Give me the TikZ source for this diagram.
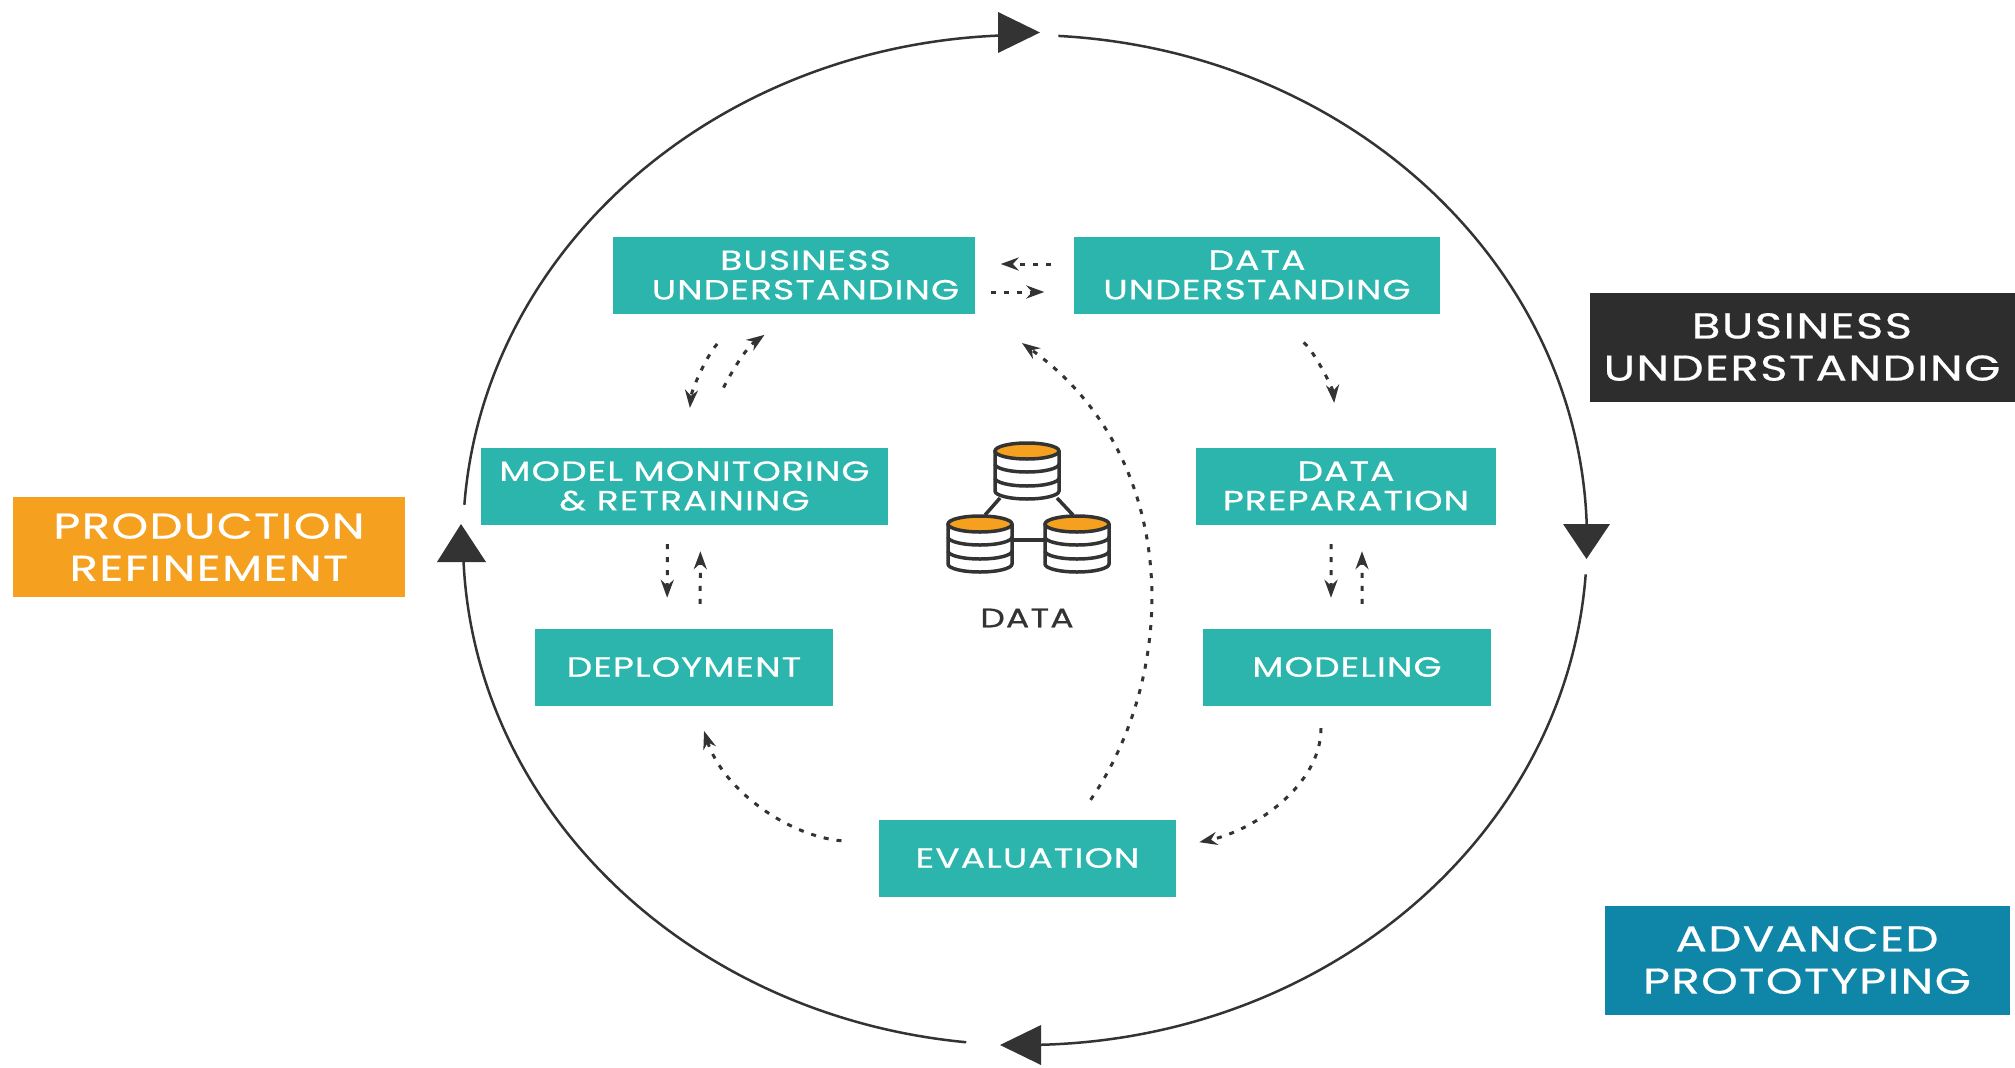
\documentclass[tikz,border=0pt]{standalone}
\usepackage{fontspec}
\setmainfont{Poppins}[FakeStretch=1.3,LetterSpace=4,FakeBold=0.6]
\usetikzlibrary{arrows.meta}
\definecolor{tealbox}{HTML}{2BB5AC}
\definecolor{orangebox}{HTML}{F5A01F}
\definecolor{bluebox}{HTML}{0F86A8}
\definecolor{blackbox}{HTML}{2D2D2D}
\definecolor{ink}{HTML}{333333}
\tikzset{
	stagebox/.style={fill=tealbox, text=white, minimum height=0.77cm, inner sep=0pt, align=center, font=\fontsize{7.9}{8.4}\selectfont},
	phasebox/.style={text=white, inner sep=0pt, align=center, font=\fontsize{10.2}{12}\selectfont},
	flow/.style={line width=0.3mm, color=ink, dash pattern=on 0.5mm off 0.8mm, -{Stealth[length=1.8mm,width=1.3mm]}},
	ring/.style={line width=0.25mm, color=ink},
	canline/.style={line width=0.35mm, color=ink}
}
\def\ringarc(#1:#2){\draw[ring] ([shift={(#1:5.62 and 5.05)}]hub) arc[start angle=#1, end angle=#2, x radius=5.62, y radius=5.05];}
\def\datacan(#1,#2){
	\begin{scope}[shift={(#1,#2)}]
		\draw[canline, fill=white] (-0.32, 0) -- (-0.32, -0.4) arc (180:360:0.32 and 0.08) -- (0.32, 0);
		\draw[canline] (-0.32, -0.13) arc (180:360:0.32 and 0.08);
		\draw[canline] (-0.32, -0.27) arc (180:360:0.32 and 0.08);
		\draw[canline, fill=orangebox] (0, 0) ellipse (0.32 and 0.08);
	\end{scope}
}

\begin{document}
\begin{tikzpicture}
		\useasboundingbox (0, 0) rectangle (20.15, 10.67);
		\coordinate (hub) at (10.25, 5.27);
		\coordinate (feedback) at (10.22, 7.24);
		
		%%%%% outer ring %%%%%
		\ringarc(176:92.7);
		\ringarc(86.6:1.8);
		\ringarc(-3.9:-88.4);
		\ringarc(264:182.5);
		\fill[ink] (9.98, 10.55) -- (10.4, 10.345) -- (9.98, 10.14) -- cycle;
		\fill[ink] (15.63, 5.43) -- (16.1, 5.43) -- (15.865, 5.08) -- cycle;
		\fill[ink] (10.41, 0.42) -- (10, 0.22) -- (10.41, 0.02) -- cycle;
		\fill[ink] (4.37, 5.05) -- (4.86, 5.05) -- (4.61, 5.43) -- cycle;
		
		%%%%% stages %%%%%
		\node[stagebox, minimum width=3.62cm] (bu) at (7.94, 7.92) {\hspace*{0.23cm}BUSINESS\\\hspace*{0.23cm}UNDERSTANDING};
		\node[stagebox, minimum width=3.66cm] (du) at (12.57, 7.92) {DATA\\UNDERSTANDING};
		\node[stagebox, minimum width=4.07cm] (mmr) at (6.845, 5.81) {MODEL MONITORING\\\& RETRAINING};
		\node[stagebox, minimum width=3cm] (dp) at (13.46, 5.81) {DATA\\PREPARATION};
		\node[stagebox, minimum width=2.98cm] (dep) at (6.84, 4) {DEPLOYMENT};
		\node[stagebox, minimum width=2.88cm] (mod) at (13.47, 4) {MODELING};
		\node[stagebox, minimum width=2.97cm] (eval) at (10.275, 2.09) {EVALUATION};
		
		%%%%% phases %%%%%
		\node[phasebox, fill=blackbox, minimum width=4.25cm, minimum height=1.09cm] (bizphase) at (18.02, 7.2) {BUSINESS\\UNDERSTANDING};
		\node[phasebox, fill=orangebox, minimum width=3.91cm, minimum height=1cm] (prodphase) at (2.09, 5.2) {PRODUCTION\\REFINEMENT};
		\node[phasebox, fill=bluebox, minimum width=4.05cm, minimum height=1.09cm] (protophase) at (18.07, 1.07) {ADVANCED\\PROTOTYPING};
		
		%%%%% data icon %%%%%
		\draw[canline] (10, 5.69) -- (9.85, 5.52);
		\draw[canline] (10.57, 5.69) -- (10.73, 5.52);
		\draw[canline] (10.13, 5.27) -- (10.45, 5.27);
		\datacan(10.27,6.16)
		\datacan(9.8,5.43)
		\datacan(10.77,5.43)
		\node[text=ink, font=\fontsize{7.6}{8}\selectfont] (datalabel) at (10.27, 4.49) {DATA};
		
		%%%%% flows %%%%%
		\draw[flow, shorten <=2.2mm, shorten >=2.5mm] ([yshift=0.11cm]du.west) -- ([yshift=0.11cm]bu.east);
		\draw[flow, shorten <=1.5mm, shorten >=2.9mm] ([yshift=-0.17cm]bu.east) -- ([yshift=-0.17cm]du.west);
		
		\draw[flow, shorten <=4mm, shorten >=3.9mm] ([xshift=-0.5cm]bu.south) to[out=228, in=85] ([xshift=0.02cm]mmr.north);
		\draw[flow, shorten <=6.3mm, shorten >=3.6mm] ([xshift=0.175cm]mmr.north) to[out=70, in=215] (bu.south);
		\draw[flow, shorten <=4.4mm, shorten >=4.4mm] ([xshift=0.13cm]du.south) to[out=-40, in=95] ([xshift=-0.08cm]dp.north);
		
		\draw[flow, shorten <=1.9mm, shorten >=3mm] ([xshift=-0.15cm]dp.south) -- ([xshift=-0.16cm]mod.north);
		\draw[flow, shorten <=2.4mm, shorten >=2.6mm] ([xshift=0.15cm]mod.north) -- ([xshift=0.16cm]dp.south);
		\draw[flow, shorten <=1.9mm, shorten >=3mm] ([xshift=-0.17cm]mmr.south) -- ([xshift=-0.17cm]dep.north);
		\draw[flow, shorten <=2.4mm, shorten >=2.6mm] ([xshift=0.16cm]dep.north) -- ([xshift=0.16cm]mmr.south);
		
		\draw[flow, shorten <=2.2mm, shorten >=2.3mm] ([xshift=-0.26cm]mod.south) to[out=-90, in=12] ([yshift=0.11cm]eval.east);
		\draw[flow, shorten <=3.7mm, shorten >=2.6mm] ([yshift=0.14cm]eval.west) to[out=175, in=-72] ([xshift=0.12cm]dep.south);
		\draw[flow, shorten <=2.3mm] ([xshift=0.5cm]eval.north) .. controls (11.8, 3.97) and (11.81, 6.1) .. (feedback);
\end{tikzpicture}
\end{document}
